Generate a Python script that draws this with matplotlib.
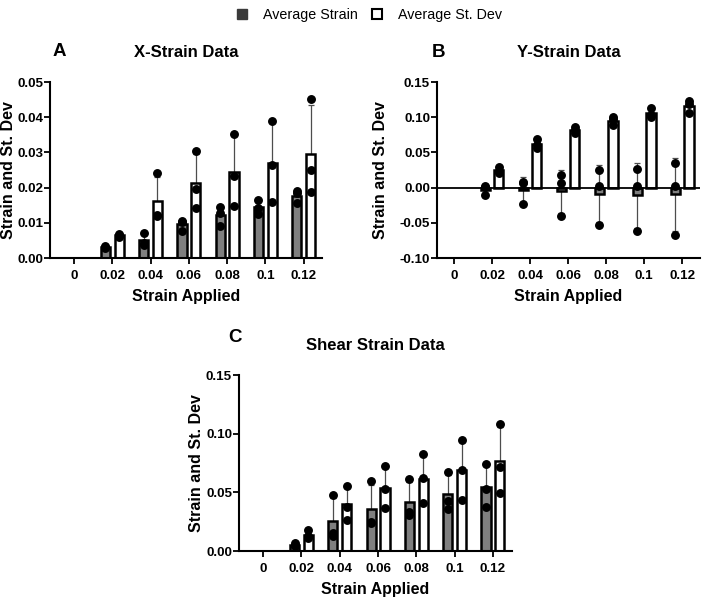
import numpy as np
import matplotlib
matplotlib.use('Agg')
import matplotlib.pyplot as plt
from matplotlib.lines import Line2D

plt.rcParams['font.family'] = ['Liberation Sans', 'DejaVu Sans']

# Categories (strain applied)
strain_labels = ['0', '0.02', '0.04', '0.06', '0.08', '0.1', '0.12']

# Replicate values (3 per group, none at 0)
x_avg_pts = [[], [0.0028, 0.0030, 0.0033], [0.0038, 0.0042, 0.0071],
             [0.0078, 0.0103, 0.0106], [0.0090, 0.0128, 0.0146],
             [0.0125, 0.0142, 0.0164], [0.0155, 0.0186, 0.0190]]
x_sd_pts = [[], [0.0060, 0.0066, 0.0069], [0.0118, 0.0123, 0.0241],
            [0.0143, 0.0196, 0.0303], [0.0148, 0.0232, 0.0352],
            [0.0158, 0.0265, 0.0388], [0.0188, 0.0250, 0.0452]]

y_avg_pts = [[], [0.002, 0.001, -0.011], [0.008, 0.007, -0.023],
             [0.018, 0.006, -0.040], [0.025, 0.003, -0.053],
             [0.026, 0.003, -0.062], [0.035, 0.003, -0.067]]
y_sd_pts = [[], [0.021, 0.024, 0.030], [0.057, 0.060, 0.069],
            [0.078, 0.082, 0.086], [0.089, 0.097, 0.100],
            [0.100, 0.103, 0.113], [0.106, 0.119, 0.123]]

shear_avg_pts = [[], [0.004, 0.005, 0.0066], [0.013, 0.015, 0.048],
                 [0.0236, 0.025, 0.0597], [0.031, 0.0335, 0.0614],
                 [0.0358, 0.043, 0.0671], [0.0378, 0.0528, 0.0739]]
shear_sd_pts = [[], [0.011, 0.013, 0.018], [0.0264, 0.0378, 0.0554],
                [0.0364, 0.0528, 0.0727], [0.0406, 0.062, 0.0824],
                [0.0435, 0.069, 0.0946], [0.0492, 0.0719, 0.108]]

GREY = '#7f7f7f'
BAR_W = 0.24
OFFSET = 0.18


def draw_series(ax, x, pts, face):
    means = np.array([np.mean(p) if p else np.nan for p in pts])
    sds = np.array([np.std(p, ddof=1) if p else np.nan for p in pts])
    ok = ~np.isnan(means)
    # error bars behind the bars
    ax.errorbar(x[ok], means[ok], yerr=sds[ok], fmt='none', ecolor='#4d4d4d',
                elinewidth=0.9, capsize=2, capthick=0.9, zorder=1)
    ax.bar(x[ok], means[ok], width=BAR_W, color=face, edgecolor='black',
           linewidth=1.8, zorder=2)
    for xi, p in zip(x, pts):
        if p:
            ax.plot([xi] * len(p), p, 'o', color='black', markersize=5.4,
                    zorder=3, clip_on=False)


def draw_panel(fig, rect, avg_pts, sd_pts, ylim, yticks, xlim, title, letter,
               ylab_x, letter_xy, zero_line=False):
    ax = fig.add_axes(rect)
    x = np.arange(len(strain_labels))
    draw_series(ax, x - OFFSET, avg_pts, GREY)
    draw_series(ax, x + OFFSET, sd_pts, 'white')
    if zero_line:
        ax.axhline(0, color='black', linewidth=1.3, zorder=2.5)

    ax.set_xlim(*xlim)
    ax.set_ylim(*ylim)
    ax.set_yticks(yticks)
    ax.set_yticklabels(['{:.2f}'.format(v) for v in yticks])
    ax.set_xticks(x)
    ax.set_xticklabels(strain_labels)
    for s in ['top', 'right']:
        ax.spines[s].set_visible(False)
    for s in ['left', 'bottom']:
        ax.spines[s].set_linewidth(1.5)
    ax.tick_params(axis='both', width=1.3, length=4, labelsize=9.6, pad=1)
    ax.tick_params(axis='x', pad=4.5)
    for lab in ax.get_xticklabels() + ax.get_yticklabels():
        lab.set_fontweight('bold')

    ax.set_xlabel('Strain Applied', fontsize=11.5, fontweight='bold')
    ax.xaxis.set_label_coords(0.5, -0.218)
    ax.xaxis.label.set_verticalalignment('center')
    ax.set_ylabel('Strain and St. Dev', fontsize=11.5, fontweight='bold')
    ax.yaxis.set_label_coords(ylab_x, 0.5)
    ax.yaxis.label.set_verticalalignment('center')
    ax.set_title(title, fontsize=12, fontweight='bold', pad=18)
    ax.text(letter_xy[0], letter_xy[1], letter, transform=ax.transAxes,
            fontsize=13.5, fontweight='bold', ha='left', va='center')
    return ax


def main():
    fig = plt.figure(figsize=(7.02, 6.10), dpi=100)

    draw_panel(fig, [0.0712, 0.577, 0.3875, 0.2885], x_avg_pts, x_sd_pts,
               (0, 0.05), [0, 0.01, 0.02, 0.03, 0.04, 0.05],
               (-0.63, 6.48), 'X-Strain Data', 'A', -0.153, (0.011, 1.176))
    draw_panel(fig, [0.6225, 0.577, 0.3746, 0.2885], y_avg_pts, y_sd_pts,
               (-0.10, 0.15), [-0.10, -0.05, 0, 0.05, 0.10, 0.15],
               (-0.45, 6.47), 'Y-Strain Data', 'B', -0.213, (-0.019, 1.17),
               zero_line=True)
    draw_panel(fig, [0.3405, 0.0967, 0.389, 0.2885], shear_avg_pts, shear_sd_pts,
               (0, 0.15), [0, 0.05, 0.10, 0.15],
               (-0.63, 6.5), 'Shear Strain Data', 'C', -0.154, (-0.04, 1.216))

    handles = [Line2D([], [], marker='s', linestyle='none', markersize=7,
                      markerfacecolor='#3a3a3a', markeredgecolor='#3a3a3a'),
               Line2D([], [], marker='s', linestyle='none', markersize=7,
                      markerfacecolor='white', markeredgecolor='black',
                      markeredgewidth=1.5)]
    fig.legend(handles, ['Average Strain', 'Average St. Dev'], loc='center',
               bbox_to_anchor=(0.52, 0.975), ncol=2, frameon=False,
               fontsize=10.3, handletextpad=0.5, columnspacing=0.3)

    fig.savefig('out.png', dpi=100)
    plt.close(fig)


if __name__ == "__main__":
    main()
